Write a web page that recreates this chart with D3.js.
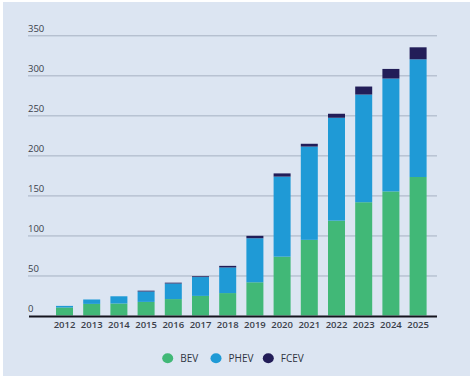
<!DOCTYPE html>
<html>
<head>
<meta charset="utf-8">
<script src="https://cdn.jsdelivr.net/npm/d3@7"></script>
<style>
  html, body { margin: 0; padding: 0; background: #ffffff; }
  svg { display: block; }
  text { font-family: "Open Sans", "Noto Sans", sans-serif; }
</style>
</head>
<body>
<svg id="chart" width="474" height="381"></svg>
<script>
const years = ["2012","2013","2014","2015","2016","2017","2018","2019","2020","2021","2022","2023","2024","2025"];
const bev  = [10, 14.5, 15, 17, 20.5, 24.5, 28, 41.5, 73.5, 94.5, 118.5, 141.5, 155, 173];
const phev = [2, 5.5, 9, 13, 19.5, 23.5, 32, 55, 100, 116.5, 128.5, 134.5, 141, 147];
const fcev = [0, 0, 0, 1, 1, 1, 2, 3, 4, 3.5, 5, 10, 12, 15];
const seriesNames = ["BEV", "PHEV", "FCEV"];
const seriesColors = ["#41b877", "#1f9ad6", "#221d58"];
const yTicks = [0, 50, 100, 150, 200, 250, 300, 350];

const svg = d3.select("#chart");

// panel background
svg.append("rect").attr("x", 3).attr("y", 2).attr("width", 467).attr("height", 374)
  .attr("fill", "#dce5f2");

const x = d3.scaleBand().domain(years).range([42.4, 440.2]).paddingInner(0.375).paddingOuter(0.5);
const y = d3.scaleLinear().domain([0, 350]).range([315.5, 35.3]);

const gridLeft = 28, gridRight = 437;

// gridlines
const yAxis = d3.axisLeft(y).tickValues(yTicks.filter(d => d > 0)).tickSize(-(gridRight - gridLeft)).tickFormat("");
const gy = svg.append("g").attr("transform", `translate(${gridLeft},0)`).call(yAxis);
gy.select(".domain").remove();
gy.selectAll("line").attr("stroke", "#a6b1c2").attr("stroke-width", 1);

// y labels
svg.append("g").selectAll("text").data(yTicks).join("text")
  .attr("x", gridLeft).attr("y", d => y(d) - 3.5)
  .attr("font-size", 9.5).attr("fill", "#3a3f4a")
  .text(d => d);

// stacked bars
const rows = years.map((yr, i) => ({ year: yr, BEV: bev[i], PHEV: phev[i], FCEV: fcev[i] }));
const stack = d3.stack().keys(seriesNames)(rows);
svg.append("g").selectAll("g").data(stack).join("g")
  .attr("fill", (d, i) => seriesColors[i])
  .selectAll("rect").data(d => d).join("rect")
  .attr("x", d => x(d.data.year))
  .attr("width", x.bandwidth())
  .attr("y", d => y(d[1]))
  .attr("height", d => Math.max(0, y(d[0]) - y(d[1])));

// baseline
svg.append("line").attr("x1", 29).attr("x2", gridRight).attr("y1", y(0) + 1).attr("y2", y(0) + 1)
  .attr("stroke", "#14141e").attr("stroke-width", 2);

// x axis labels
const xAxis = d3.axisBottom(x).tickSize(0).tickPadding(0);
const gx = svg.append("g").attr("transform", `translate(0,${y(0) + 6})`).call(xAxis);
gx.select(".domain").remove();
gx.selectAll("text").attr("font-size", 9.5).attr("fill", "#3a3f4a")
  .attr("font-family", "'Open Sans', 'Noto Sans', sans-serif").attr("font-weight", 600);

// legend
const legendX = [167.7, 216, 268.3];
const lg = svg.append("g").selectAll("g").data(seriesNames).join("g")
  .attr("transform", (d, i) => `translate(${legendX[i]},358.3)`);
lg.append("ellipse").attr("rx", 5.5).attr("ry", 5).attr("fill", (d, i) => seriesColors[i]);
lg.append("text").attr("x", 12.5).attr("y", 3.6).attr("font-size", 10).attr("fill", "#2e3340")
  .text(d => d);
</script>
</body>
</html>
